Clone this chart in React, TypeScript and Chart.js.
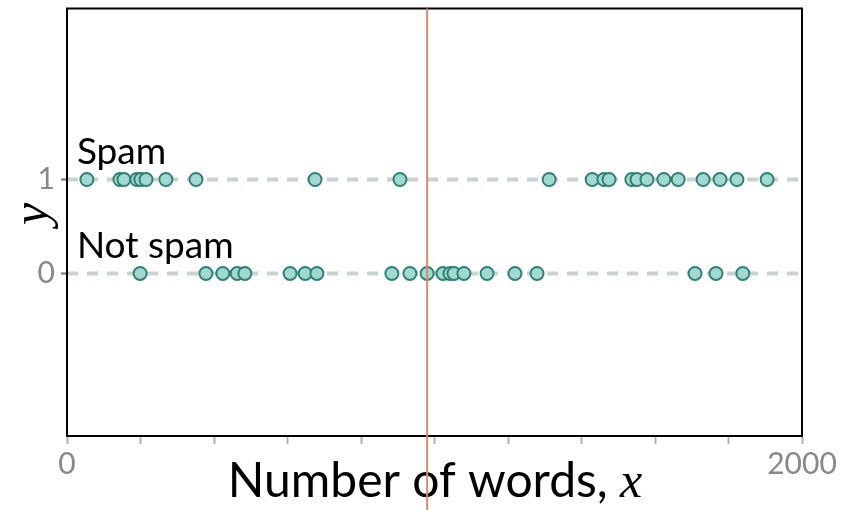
import React, { useEffect, useRef } from 'react';
import { Chart, registerables } from 'chart.js';

Chart.register(...registerables);

// Number of words in each e-mail, by class
const spamWords = [54, 144, 155, 190, 201, 215, 269, 351, 675, 906, 1312, 1429, 1461, 1475, 1537, 1551, 1578, 1624, 1663, 1731, 1777, 1823, 1905];
const notSpamWords = [199, 378, 424, 463, 484, 607, 648, 680, 884, 933, 980, 1023, 1042, 1053, 1080, 1143, 1219, 1279, 1709, 1766, 1839];
const classValues = [0, 1];
const classLabels = ['Not spam', 'Spam'];
const threshold = 980;
const xTicks = [0, 200, 400, 600, 800, 1000, 1200, 1400, 1600, 1800, 2000];
const xTickLabels = ['0', '', '', '', '', '', '', '', '', '', '2000'];
const yTickLabels = ['0', '1'];
const xTitle = 'Number of words, ';
const xTitleVar = 'x';
const yTitleVar = 'y';

const SANS = 'Lato, "DejaVu Sans", sans-serif';
const SERIF = '"Liberation Serif", "DejaVu Serif", serif';

export default function App() {
  const ref = useRef<HTMLCanvasElement | null>(null);

  useEffect(() => {
    const canvas = ref.current;
    if (!canvas) return;

    const overlay = {
      id: 'overlay',
      afterDatasetsDraw(chart: any) {
        const { ctx, chartArea, scales } = chart;
        ctx.save();
        ctx.strokeStyle = '#000';
        ctx.lineWidth = 2;
        ctx.strokeRect(chartArea.left, chartArea.top, chartArea.right - chartArea.left, chartArea.bottom - chartArea.top);
        ctx.fillStyle = '#000';
        ctx.font = `37px ${SANS}`;
        ctx.textBaseline = 'middle';
        ctx.textAlign = 'left';
        classValues.forEach((v, i) => {
          ctx.fillText(classLabels[i], scales.x.getPixelForValue(27), scales.y.getPixelForValue(v) - 27);
        });
        ctx.restore();
      },
      afterDraw(chart: any) {
        const { ctx, chartArea, scales, height } = chart;
        ctx.save();
        ctx.fillStyle = '#000';
        ctx.textBaseline = 'alphabetic';
        ctx.font = `48px ${SANS}`;
        const w1 = ctx.measureText(xTitle).width;
        ctx.font = `italic 50px ${SERIF}`;
        const w2 = ctx.measureText(xTitleVar).width;
        const cx = 435;
        const x0 = cx - (w1 + w2) / 2;
        ctx.font = `48px ${SANS}`;
        ctx.textAlign = 'left';
        ctx.fillText(xTitle, x0, 497);
        ctx.font = `italic 50px ${SERIF}`;
        ctx.fillText(xTitleVar, x0 + w1, 497);
        ctx.translate(34, 214);
        ctx.rotate(-Math.PI / 2);
        ctx.textAlign = 'center';
        ctx.textBaseline = 'middle';
        ctx.font = `italic 50px ${SERIF}`;
        ctx.fillText(yTitleVar, 0, 0);
        ctx.restore();
        ctx.save();
        const px = scales.x.getPixelForValue(threshold);
        ctx.strokeStyle = '#dc8a65';
        ctx.lineWidth = 2;
        ctx.beginPath();
        ctx.moveTo(px, chartArea.top);
        ctx.lineTo(px, height);
        ctx.stroke();
        ctx.restore();
      },
    };

    const pointStyle = {
      backgroundColor: '#9fd9d0',
      borderColor: '#2e8174',
      borderWidth: 2,
      pointRadius: 6.5,
      pointHoverRadius: 6.5,
    };

    const chart = new Chart(canvas, {
      type: 'scatter',
      data: {
        datasets: [
          ...classValues.map((v) => ({
            type: 'line' as const,
            data: [{ x: xTicks[0], y: v }, { x: xTicks[xTicks.length - 1], y: v }],
            borderColor: '#c9d2d0',
            borderWidth: 4,
            borderDash: [11, 9],
            pointRadius: 0,
            order: 5,
          })),
          { data: spamWords.map((x) => ({ x, y: 1 })), ...pointStyle, order: 1 },
          { data: notSpamWords.map((x) => ({ x, y: 0 })), ...pointStyle, order: 1 },
        ],
      },
      options: {
        animation: false,
        responsive: false,
        layout: { padding: { top: 7, right: 39, left: 0, bottom: 0 } },
        plugins: { legend: { display: false }, tooltip: { enabled: false } },
        scales: {
          x: {
            type: 'linear',
            min: 0,
            max: 2000,
            afterBuildTicks: (s: any) => {
              s.ticks = xTicks.map((value) => ({ value }));
            },
            afterFit: (s: any) => {
              s.height = 74;
              s.paddingLeft = 0;
              s.paddingRight = 0;
            },
            ticks: {
              autoSkip: false,
              maxRotation: 0,
              color: '#888888',
              padding: 2,
              font: { family: SANS, size: 30 },
              callback: (v: any) => {
                const i = xTicks.indexOf(Number(v));
                return i >= 0 ? xTickLabels[i] : '';
              },
            },
            grid: { drawOnChartArea: false, drawTicks: true, tickLength: 8, tickColor: '#b0b0b0', tickWidth: 2 },
            border: { display: true, color: '#000', width: 2 },
          },
          y: {
            type: 'linear',
            min: -1.73,
            max: 2.82,
            afterBuildTicks: (s: any) => {
              s.ticks = classValues.map((value) => ({ value }));
            },
            afterFit: (s: any) => {
              s.width = 67;
              s.paddingTop = 0;
              s.paddingBottom = 0;
            },
            ticks: {
              color: '#888888',
              padding: 6,
              font: { family: SANS, size: 30 },
              callback: (v: any) => {
                const i = classValues.indexOf(Number(v));
                return i >= 0 ? yTickLabels[i] : '';
              },
            },
            grid: { drawOnChartArea: false, drawTicks: true, tickLength: 6, tickColor: '#707070', tickWidth: 2 },
            border: { display: true, color: '#000', width: 2 },
          },
        },
      },
      plugins: [overlay],
    });

    return () => chart.destroy();
  }, []);

  return (
    <div style={{ position: 'fixed', left: 0, top: 0, width: 841, height: 510, background: '#fff' }}>
      <canvas ref={ref} width={841} height={510} style={{ display: 'block' }} />
    </div>
  );
}
